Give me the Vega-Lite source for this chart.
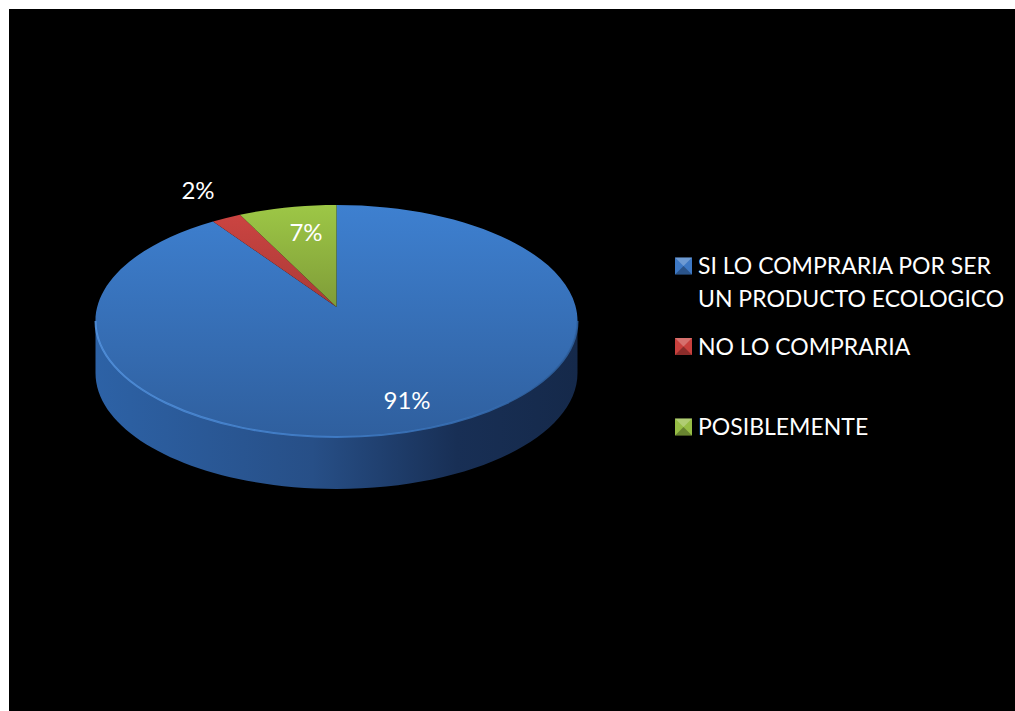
{
"$schema":"https://vega.github.io/schema/vega-lite/v6.json",
"width":1006,"height":702,
"padding":{"left":9,"top":9,"right":0,"bottom":0},
"autosize":{"type":"none"},
"background":"#ffffff",
"view":{"fill":"#000000","stroke":null},
"config":{"font":"Lato","text":{"font":"Lato"}},
"data":{"values":[
{"n":1,"categoria":"SI LO COMPRARIA POR SER\nUN PRODUCTO ECOLOGICO","pct":91.44},
{"n":2,"categoria":"NO LO COMPRARIA","pct":2.0},
{"n":3,"categoria":"POSIBLEMENTE","pct":6.56}
]},
"transform":[
{"stack":"pct","groupby":[],"sort":[{"field":"n","order":"ascending"}],"as":["p0","p1"]},
{"calculate":"2*PI*datum.p0/100","as":"t0"},
{"calculate":"2*PI*datum.p1/100","as":"t1"},
{"calculate":"'M0,-14L'+(241*sin(datum.t0))+','+(-116*cos(datum.t0))+'A241,116 0 '+((datum.p1-datum.p0)>50?1:0)+' 1 '+(241*sin(datum.t1))+','+(-116*cos(datum.t1))+'Z'","as":"ruta"},
{"calculate":"round(datum.pct)+'%'","as":"etiqueta"}
],
"layer":[
{"data":{"values":[{"pieza":"lateral"}]},"transform":[],
 "mark":{"type":"point","filled":true,"size":4,"opacity":1,"shape":"M-241,0L-241,52A241,116 0 0 0 241,52L241,0A241,116 0 0 1 -241,0Z",
 "fill":{"gradient":"linear","x1":0,"y1":0,"x2":1,"y2":0,"stops":[{"offset":0,"color":"#2d62a6"},{"offset":0.45,"color":"#274f87"},{"offset":0.75,"color":"#182f55"},{"offset":1,"color":"#15294a"}]}},
 "encoding":{"x":{"value":327.5},"y":{"value":312}}},
{"transform":[{"filter":"datum.n==1"}],"mark":{"type":"point","filled":true,"size":4,"opacity":1,
 "fill":{"gradient":"linear","x1":0,"y1":0,"x2":0,"y2":1,"stops":[{"offset":0,"color":"#3e80d0"},{"offset":1,"color":"#2f5f9e"}]}},
 "encoding":{"x":{"value":327.5},"y":{"value":312},"shape":{"field":"ruta","type":"nominal","scale":null,"legend":null}}},
{"transform":[{"filter":"datum.n==2"}],"mark":{"type":"point","filled":true,"size":4,"opacity":1,
 "fill":{"gradient":"linear","x1":0,"y1":0,"x2":0,"y2":1,"stops":[{"offset":0,"color":"#cb4441"},{"offset":1,"color":"#a93a37"}]}},
 "encoding":{"x":{"value":327.5},"y":{"value":312},"shape":{"field":"ruta","type":"nominal","scale":null,"legend":null}}},
{"transform":[{"filter":"datum.n==3"}],"mark":{"type":"point","filled":true,"size":4,"opacity":1,
 "fill":{"gradient":"linear","x1":0,"y1":0,"x2":0,"y2":1,"stops":[{"offset":0,"color":"#9dc746"},{"offset":1,"color":"#7f9c38"}]}},
 "encoding":{"x":{"value":327.5},"y":{"value":312},"shape":{"field":"ruta","type":"nominal","scale":null,"legend":null}}},
{"data":{"values":[{"pieza":"borde"}]},"transform":[],
 "mark":{"type":"point","filled":false,"size":4,"strokeWidth":2,"opacity":0.85,"shape":"M-241,0A241,116 0 0 0 241,0",
 "stroke":{"gradient":"linear","x1":0,"y1":0,"x2":1,"y2":0,"stops":[{"offset":0,"color":"#5595e2"},{"offset":0.5,"color":"#4280cc"},{"offset":1,"color":"#2f62a2"}]}},
 "encoding":{"x":{"value":327.5},"y":{"value":312}}},
{"transform":[{"filter":"datum.n==1"}],"mark":{"type":"text","color":"#ffffff","fontSize":24,"font":"Lato","baseline":"middle"},
 "encoding":{"x":{"value":398},"y":{"value":393},"text":{"field":"etiqueta"}}},
{"transform":[{"filter":"datum.n==2"}],"mark":{"type":"text","color":"#ffffff","fontSize":24,"font":"Lato","baseline":"middle"},
 "encoding":{"x":{"value":189},"y":{"value":183},"text":{"field":"etiqueta"}}},
{"transform":[{"filter":"datum.n==3"}],"mark":{"type":"text","color":"#ffffff","fontSize":24,"font":"Lato","baseline":"middle"},
 "encoding":{"x":{"value":297},"y":{"value":225},"text":{"field":"etiqueta"}}},
{"mark":{"type":"point","filled":true,"size":289,"shape":"square","opacity":1},
 "encoding":{"x":{"value":674.5},
 "y":{"field":"categoria","type":"nominal","axis":null,"sort":null,"scale":{"type":"point","padding":0,"domain":["SI LO COMPRARIA POR SER\nUN PRODUCTO ECOLOGICO","NO LO COMPRARIA","POSIBLEMENTE"],"range":[257,418]}},
 "color":{"field":"categoria","type":"nominal","legend":null,"scale":{"domain":["SI LO COMPRARIA POR SER\nUN PRODUCTO ECOLOGICO","NO LO COMPRARIA","POSIBLEMENTE"],"range":["#3d78c4","#c8403d","#96bd45"]}}}},
{"mark":{"type":"point","filled":true,"size":4,"opacity":0.25,"color":"#ffffff","shape":"M-8.5,-8.5L8.5,-8.5L0,0Z"},
 "encoding":{"x":{"value":674.5},
 "y":{"field":"categoria","type":"nominal","axis":null,"scale":{"type":"point","padding":0,"domain":["SI LO COMPRARIA POR SER\nUN PRODUCTO ECOLOGICO","NO LO COMPRARIA","POSIBLEMENTE"],"range":[257,418]}}}},
{"mark":{"type":"point","filled":true,"size":4,"opacity":0.3,"color":"#000000","shape":"M-8.5,8.5L8.5,8.5L0,0Z"},
 "encoding":{"x":{"value":674.5},
 "y":{"field":"categoria","type":"nominal","axis":null,"scale":{"type":"point","padding":0,"domain":["SI LO COMPRARIA POR SER\nUN PRODUCTO ECOLOGICO","NO LO COMPRARIA","POSIBLEMENTE"],"range":[257,418]}}}},
{"mark":{"type":"text","color":"#ffffff","fontSize":23,"font":"Lato","align":"left","baseline":"alphabetic","dy":8,"lineBreak":"\n","lineHeight":33},
 "encoding":{"x":{"value":689},
 "y":{"field":"categoria","type":"nominal","axis":null,"scale":{"type":"point","padding":0,"domain":["SI LO COMPRARIA POR SER\nUN PRODUCTO ECOLOGICO","NO LO COMPRARIA","POSIBLEMENTE"],"range":[257,418]}},
 "text":{"field":"categoria"}}}
]
}
